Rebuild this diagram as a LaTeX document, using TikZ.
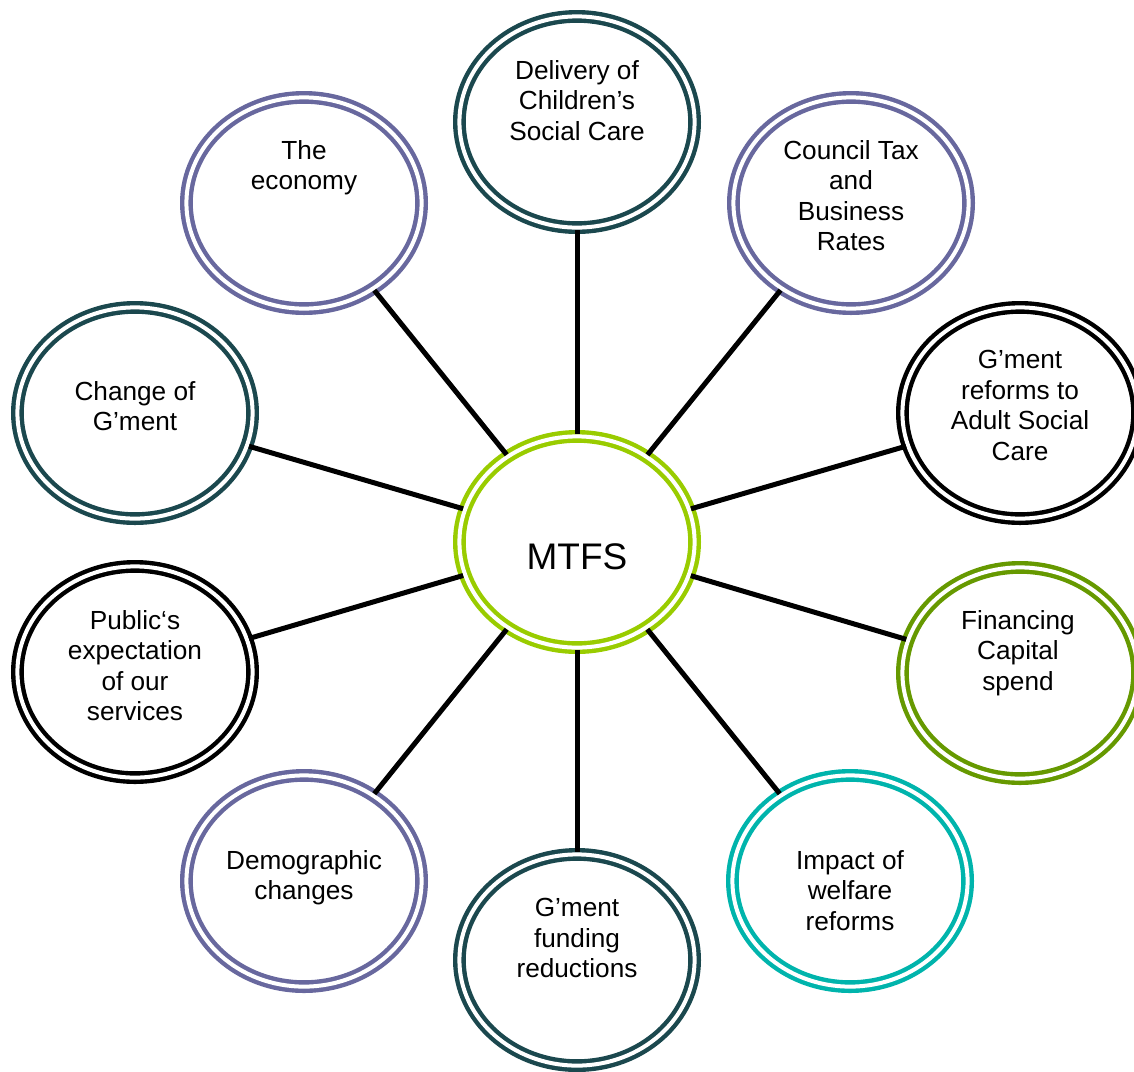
\documentclass[tikz,border=0pt]{standalone}
\usepackage{fontspec}
\setmainfont{Liberation Sans}
\usetikzlibrary{positioning,shapes.geometric}
\definecolor{lilac}{RGB}{104,104,158}
\definecolor{slate}{RGB}{27,72,78}
\definecolor{limegreen}{RGB}{153,204,0}
\definecolor{mossgreen}{RGB}{102,153,0}
\definecolor{seateal}{RGB}{0,180,172}
\def\bw{117.6pt}
\def\bh{105.6pt}
\tikzstyle{bubble}=[ellipse,draw,double,double distance=2pt,line width=2.2pt,
  minimum width=\bw,minimum height=\bh,inner sep=0pt]
\tikzstyle{txt}=[anchor=north,align=center,inner sep=0pt,
  font=\fontsize{13.1pt}{15.25pt}\selectfont]
\tikzstyle{link}=[line width=2.5pt,black]
\newcommand{\newBubble}[5]{\node[bubble,draw=#3](#1) at (#2) {};
  \node[txt](#1T) at (#4) {#5};}
\newcommand{\newLink}[2]{\draw[link] (#1) -- (#2);}

\begin{document}
\begin{tikzpicture}[x=0.5pt,y=-0.5pt]
  \useasboundingbox (0,0) rectangle (1134,1071);
  % centre
  \node[bubble,draw=limegreen] (mtfs) at (577,542) {};
  \node[font=\fontsize{18.5pt}{22pt}\selectfont,inner sep=0pt] (mtfsT) at (577,557) {MTFS};
  % ring of drivers
  \newBubble{child}{577,122}{slate}{577,60}{Delivery of\\Children’s\\Social Care}
  \newBubble{econ}{304,203}{lilac}{304,140}{The\\economy}
  \newBubble{tax}{851,203}{lilac}{851,140}{Council Tax\\and\\Business\\Rates}
  \newBubble{change}{135,413}{slate}{135,381}{Change of\\G’ment}
  \newBubble{asc}{1020,413}{black}{1020,350}{G’ment\\reforms to\\Adult Social\\Care}
  \newBubble{public}{135,672}{black}{135,610}{Public‘s\\expectation\\of our\\services}
  \newBubble{capital}{1020,673}{mossgreen}{1018,610}{Financing\\Capital\\spend}
  \newBubble{demo}{304,881}{lilac}{304,850}{Demographic\\changes}
  \newBubble{welfare}{850,881}{seateal}{850,850}{Impact of\\welfare\\reforms}
  \newBubble{funding}{577,960}{slate}{577,898}{G’ment\\funding\\reductions}
  % links
  \newLink{mtfs}{child}
  \newLink{mtfs}{econ}
  \newLink{mtfs}{tax}
  \newLink{mtfs}{change}
  \newLink{mtfs}{asc}
  \newLink{mtfs}{public}
  \newLink{mtfs}{capital}
  \newLink{mtfs}{demo}
  \newLink{mtfs}{welfare}
  \newLink{mtfs}{funding}
\end{tikzpicture}
\end{document}
